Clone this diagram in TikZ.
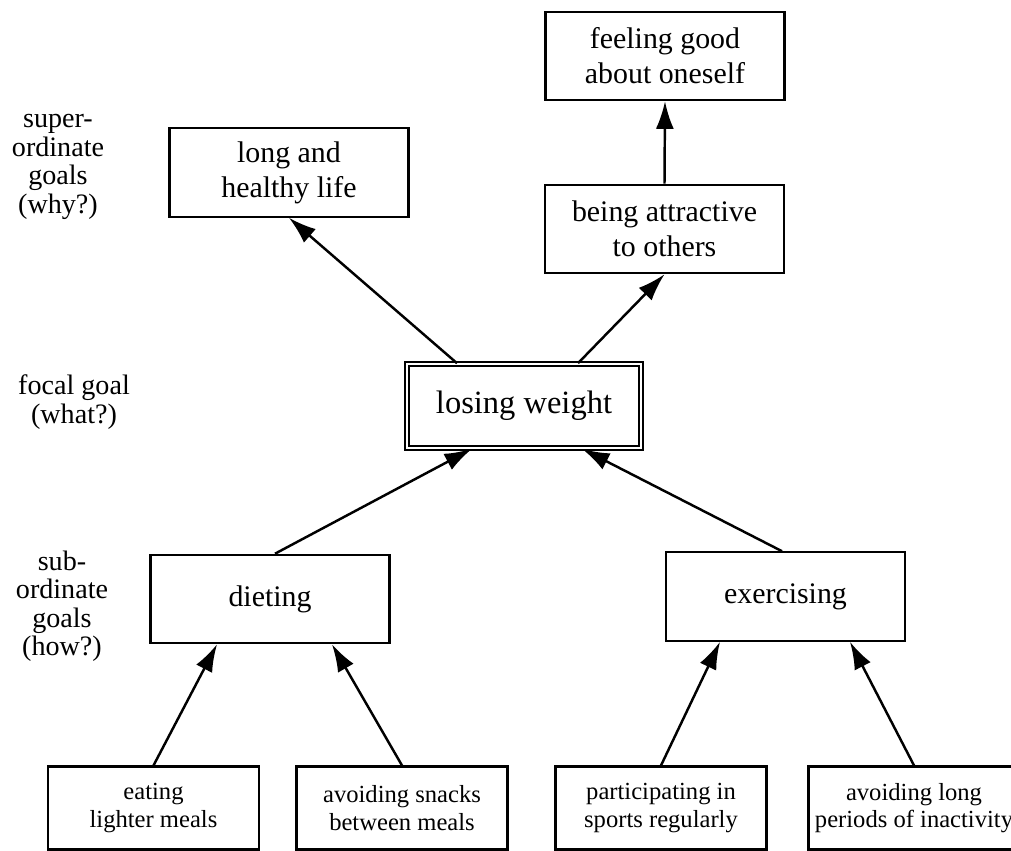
\documentclass[tikz,border=0pt]{standalone}
\usepackage{fontspec}
\setmainfont{Liberation Serif}
\usetikzlibrary{arrows.meta}

\tikzset{
  goal/.style={draw, line width=1.2pt, align=center, inner sep=0pt,
    minimum width=4.78cm, minimum height=1.77cm,
    font=\fontsize{17}{20}\selectfont},
  means/.style={goal, minimum width=4.22cm, minimum height=1.66cm,
    font=\fontsize{14}{15.5}\selectfont},
  focal/.style={goal, double, line width=0.9pt, double distance=1.6pt,
    minimum width=4.68cm, minimum height=1.68cm,
    font=\fontsize{18.5}{22}\selectfont},
  level/.style={align=center, font=\fontsize{16}{16.2}\selectfont},
  link/.style={-{Latex[length=5.5mm,width=3.6mm]}, line width=1.4pt}
}

\begin{document}
\begin{tikzpicture}[x=0.02cm, y=-0.02cm]

\useasboundingbox (0,0) rectangle (1011,850);

% levels
\node[level] (why) at (58,167) {super-\\ordinate\\goals\\(why?)};
\node[level] (what) at (74,402) {focal goal\\(what?)};
\node[level] (how) at (62,606) {sub-\\ordinate\\goals\\(how?)};

% superordinate goals
\node[goal] (life) at (289,172.5) {long and\\healthy life};
\node[goal] (feel) at (665,56) {feeling good\\about oneself};
\node[goal] (attr) at (664.5,229) {being attractive\\to others};

% focal goal
\node[focal] (lose) at (524,406) {losing weight};

% subordinate goals
\node[goal] (diet) at (270,599) {dieting};
\node[goal] (exer) at (785.5,596.5) {exercising};

\node[means] (eat) at (153.5,808) {eating\\lighter meals};
\node[means] (snack) at (402,808) {avoiding snacks\\between meals};
\node[means] (sport) at (661,808) {participating in\\sports regularly};
\node[means] (inact) at (914,808) {avoiding long\\periods of inactivity};

\draw[link] ([xshift=-1.34cm]lose.north) -- (life.south);
\draw[link] ([xshift=1.08cm]lose.north) -- (attr.south);
\draw[link] (attr.north) -- (feel.south);

\draw[link] ([xshift=0.1cm]diet.north) -- ([xshift=-1.04cm]lose.south);
\draw[link] ([xshift=-0.07cm]exer.north) -- ([xshift=1.16cm]lose.south);

\draw[link] (eat.north) -- ([xshift=-1.06cm]diet.south);
\draw[link] (snack.north) -- ([xshift=1.24cm]diet.south);
\draw[link] (sport.north) -- ([xshift=-1.31cm]exer.south);
\draw[link] (inact.north) -- ([xshift=1.29cm]exer.south);

\end{tikzpicture}
\end{document}
